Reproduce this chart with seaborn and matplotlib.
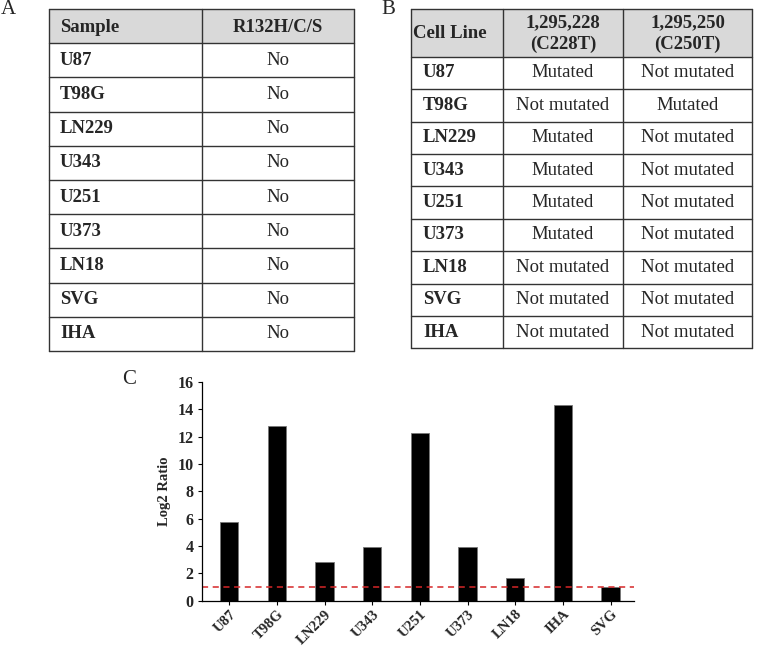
import matplotlib
matplotlib.use("Agg")
import matplotlib.pyplot as plt
import seaborn as sns
import pandas as pd

# ---- data ----
samples_a = ["U87", "T98G", "LN229", "U343", "U251", "U373", "LN18", "SVG", "IHA"]
idh_status = ["No"] * 9

cell_lines_b = ["U87", "T98G", "LN229", "U343", "U251", "U373", "LN18", "SVG", "IHA"]
c228t = ["Mutated", "Not mutated", "Mutated", "Mutated", "Mutated", "Mutated",
         "Not mutated", "Not mutated", "Not mutated"]
c250t = ["Not mutated", "Mutated", "Not mutated", "Not mutated", "Not mutated",
         "Not mutated", "Not mutated", "Not mutated", "Not mutated"]

bar_labels = ["U87", "T98G", "LN229", "U343", "U251", "U373", "LN18", "IHA", "SVG"]
log2_ratio = [5.78, 12.8, 2.81, 3.95, 12.29, 3.93, 1.66, 14.29, 1.0]
threshold = 1.0

sns.set_theme(style="ticks")
plt.rcParams['font.family'] = ['Liberation Serif', 'DejaVu Serif']

W, H = 761, 647
fig = plt.figure(figsize=(W / 100, H / 100), dpi=100)

# overlay axis in pixel coordinates for the two tables
ov = fig.add_axes([0, 0, 1, 1])
ov.set_xlim(0, W)
ov.set_ylim(H, 0)
ov.axis("off")

line_kw = dict(color="#333333", lw=1.0)
head_bg = "#d9d9d9"
fs = 13.5


def draw_table(ax, cols, row_edges, header, first_col, other_cols,
               header_pad, first_x_pad):
    left, right = cols[0], cols[-1]
    top, hbot = row_edges[0], row_edges[1]
    ax.add_patch(plt.Rectangle((left, top), right - left, hbot - top,
                               facecolor=head_bg, edgecolor="none"))
    for y in row_edges:
        ax.plot([left, right], [y, y], **line_kw)
    for x in cols:
        ax.plot([x, x], [row_edges[0], row_edges[-1]], **line_kw)
    # header
    for j, txt in enumerate(header):
        yc = (top + hbot) / 2 + 1
        if j == 0:
            ax.text(left + header_pad, yc, txt, ha="left", va="center",
                    fontsize=fs, fontweight="bold")
        else:
            ax.text((cols[j] + cols[j + 1]) / 2, yc, txt, ha="center",
                    va="center", fontsize=fs, fontweight="bold",
                    linespacing=1.3)
    for i, name in enumerate(first_col):
        yc = (row_edges[i + 1] + row_edges[i + 2]) / 2
        ax.text(left + first_x_pad, yc, name, ha="left", va="center",
                fontsize=fs, fontweight="bold")
        for j, col in enumerate(other_cols):
            ax.text((cols[j + 1] + cols[j + 2]) / 2, yc, col[i], ha="center",
                    va="center", fontsize=fs)


# table A
rows_a = [9 + k * 34.2 for k in range(11)]
draw_table(ov, [49, 202, 354], rows_a, ["Sample", "R132H/C/S"],
           samples_a, [idh_status], 11, 11)

# table B
rows_b = [9, 56.7] + [56.7 + k * 32.4 for k in range(1, 10)]
draw_table(ov, [411, 503, 623, 752], rows_b,
           ["Cell Line", "1,295,228\n(C228T)", "1,295,250\n(C250T)"],
           cell_lines_b, [c228t, c250t], 2, 12)

# panel letters
ov.text(8, 9, "A", ha="center", va="center", fontsize=15)
ov.text(388, 9, "B", ha="center", va="center", fontsize=15)
ov.text(129, 380, "C", ha="center", va="center", fontsize=15)

# bar chart
ax = fig.add_axes([202 / W, (H - 600.7) / H, (634 - 202) / W, (600.7 - 382) / H])
df = pd.DataFrame({"line": bar_labels, "ratio": log2_ratio})
sns.barplot(data=df, x="line", y="ratio", color="black", width=0.385,
            edgecolor="#777777", linewidth=0.6, saturation=1, ax=ax)
ax.axhline(threshold, color="#d62728", ls=(0, (4, 3)), lw=1.1)
ax.set_xlim(-0.57, 8.49)
ax.set_ylim(0, 16)
ax.set_yticks(range(0, 17, 2))
ax.set_xlabel("")
ax.set_ylabel("Log2 Ratio", fontsize=10.5, fontweight="bold", labelpad=5)
sns.despine(ax=ax)
for sp in ["left", "bottom"]:
    ax.spines[sp].set_color("black")
    ax.spines[sp].set_linewidth(0.9)
ax.tick_params(axis="both", direction="out", length=3, width=0.8,
               color="black", labelsize=11.5, pad=3)
ax.tick_params(axis="x", labelsize=10.5, pad=2)
for lab in ax.get_yticklabels():
    lab.set_fontweight("bold")
for lab in ax.get_xticklabels():
    lab.set_fontweight("bold")
    lab.set_rotation(45)
    lab.set_ha("right")
    lab.set_rotation_mode("anchor")

fig.savefig("out.png", dpi=100, facecolor="white")
